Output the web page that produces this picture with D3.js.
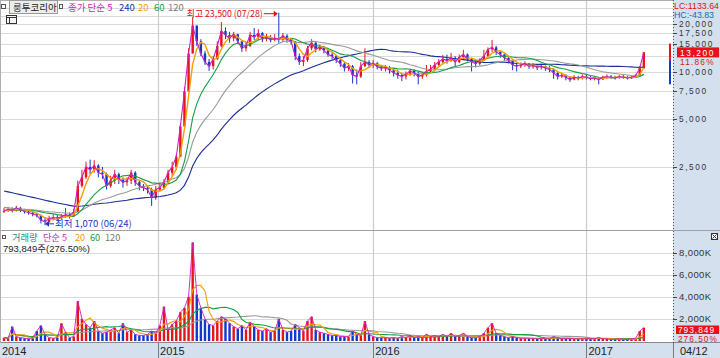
<!DOCTYPE html>
<html><head><meta charset="utf-8">
<script src="https://cdn.jsdelivr.net/npm/d3@7"></script>
<style>
body{margin:0;background:#fff}
svg{display:block}
text{font-family:"Noto Sans CJK KR","Noto Sans",sans-serif}
text.num{font-family:"Liberation Sans","Arial","Noto Sans CJK KR",sans-serif}
</style>
</head><body>
<svg id="c" width="720" height="358"></svg>
<script>
// ---------------- DATA ----------------
const stockName = "룽투코리아";
const startWeek = "2014-04-14";
const lastDate = "2017-04-12";
// weekly closes (won)
const closes = [1320,1350,1330,1380,1340,1310,1290,1260,1240,1150,1130,1180,1200,1190,1210,1250,1230,1300,
1900,2150,2500,2400,2550,2300,2250,1900,2050,2250,2100,2000,2050,2300,2000,1900,1850,1800,1600,1800,1850,2000,2300,2500,
2900,4500,7500,13000,19500,15500,13000,11500,10800,12000,14500,18000,17000,16200,17200,15500,14000,14500,17000,16500,17500,16000,16500,15800,16200,16000,16800,16000,15500,
12500,11500,11800,14000,15200,13800,14300,13600,12800,12500,11800,11200,10500,10800,9500,9300,10800,11500,11000,11300,10700,10500,10600,10200,9800,9500,9300,9600,10100,9800,9300,9500,
10000,10300,11000,11500,12000,11700,12200,11500,12300,12800,12000,11500,11200,11800,12500,13800,14200,13300,12800,12200,11800,11000,10800,11000,11200,10800,10900,10600,10800,10500,10300,
9800,9300,9500,9200,8900,9200,9100,9300,9200,9000,9100,8900,9200,9300,9200,9100,9300,9200,9100,9200,9400,10500,13200];
const highs = [1380,1400,1390,1420,1400,1360,1340,1310,1290,1250,1200,1230,1250,1240,1260,1380,1290,1360,
2050,2400,2700,2780,2760,2600,2500,2300,2200,2400,2300,2150,2150,2400,2350,2050,1950,1900,1850,1900,2000,2100,2400,2700,
3000,4700,8000,14000,22000,19500,16000,13500,12000,12500,15500,20500,19000,17800,17800,17300,15500,15200,17800,18800,18500,17800,17300,17000,17200,23500,17500,17200,16300,
15500,13000,12500,14500,16000,15300,14800,14500,13800,13200,12700,12000,11400,11300,11000,10300,11500,14000,11800,11800,11500,11000,11000,10800,10500,10200,9800,10000,10400,10300,10000,9900,
11000,11000,11500,12000,12700,12800,13100,12500,12800,13700,13000,12200,11800,12100,13700,14200,15800,14500,13400,13000,12300,11900,11300,11400,11600,11300,11300,11100,11200,10900,10800,
10500,9900,9800,9600,9300,9500,9400,9600,9500,9400,9300,9200,9400,9600,9500,9400,9500,9500,9400,9400,9600,10800,13300];
const lows = [1280,1300,1290,1310,1300,1270,1250,1220,1200,1100,1070,1110,1150,1150,1160,1190,1180,1210,
1300,1850,2100,2250,2300,2150,2100,1800,1850,1950,1950,1850,1900,1950,1900,1780,1760,1700,1420,1550,1750,1800,1950,2200,
2400,2900,4500,7500,13000,14500,12500,11000,10100,10300,11800,14200,16000,15200,15500,15000,13300,13400,14300,15800,15800,15300,15500,15300,15500,15200,15500,15200,14800,
11800,11000,10800,11500,13600,13200,13500,13000,12400,12000,11300,10700,10000,10100,8400,8300,9100,10700,10500,10500,10300,10100,10000,9700,9300,9000,8700,8900,9400,9300,8300,9000,
9300,9800,10000,10800,11300,11200,11500,10800,11300,12000,11600,10000,10600,10900,11700,12400,13300,12700,12200,11700,11300,10200,10000,10500,10700,10400,10400,10200,10300,10100,9900,
9000,8900,9100,8800,8600,8800,8800,8900,8900,8800,8800,8300,8900,9000,9000,8900,9000,9000,8900,9000,9100,9300,10400];
// weekly volume (thousand shares)
const volumes = [300,250,1300,400,300,250,200,300,900,1400,600,300,250,300,1600,800,300,400,
3600,2000,1500,1200,1800,900,700,800,1000,1200,700,1600,800,1000,600,500,500,600,900,700,1400,3100,1000,1500,
1800,2600,3000,4000,8900,4200,3000,2000,1500,1400,1800,2200,2000,1600,1300,1100,1400,1000,1700,1300,1000,900,1100,800,900,2000,1000,800,900,
1500,1200,900,1800,2200,1000,800,700,600,500,500,400,400,400,900,600,500,1800,600,400,300,300,300,250,300,250,400,300,500,300,400,300,
600,400,500,400,600,400,700,400,500,700,400,300,300,400,700,1200,1600,700,500,400,300,400,300,250,250,250,250,200,250,200,
200,400,300,200,200,250,200,200,200,200,200,200,300,200,200,150,150,200,150,150,200,250,900,1200];
// closes of the weeks before the first visible week (used only for moving averages)
const priorCloses = [2500,2480,2450,2400,2350,2350,2300,2250,2200,2200,2150,2150,2100,2100,2050,2050,2000,2000,
2000,1950,1900,1850,1800,1750,1600,1550,1500,1500,1450,1450,1400,1400,1400,1380,1380,1350,1350,1350,1350,1330,1330,1330,1320,1320,1330,1330,1320];
const maDays = [5, 20, 60, 120, 240];
const volMaDays = [5, 20, 60, 120];
const priceTicks = [2500,5000,7500,10000,12500,15000,17500,20000,22500,25000];
const priceTickLabels = ["2,500","5,000","7,500","10,000","","15,000","17,500","20,000","",""];
const volTicks = [2000,4000,6000,8000];
const yearLabels = ["2014","2015","2016","2017"];
const yearDates = ["2014-04-14","2015-01-02","2016-01-04","2017-01-02"];
const highDateLabel = "07/28", lowDateLabel = "06/24";
const lastClose = 13200, changeRate = "11.86%";
const lastVolume = 793849, volRate = "276.50%";
const lcText = "LC:1133.64", hcText = "HC:-43.83";
const rangeUp = [15000, 11800], rangeDown = [11800, 8300];

// ---------------- STYLE ----------------
const C = {up:"#e3141c", down:"#1438c8", ma5:"#d01cc0", ma20:"#f0a000", ma60:"#14a040", ma120:"#9a9a9a", ma240:"#1a2f9a",
  grid:"#dadada", vgrid:"#cccccc", panel:"#d5e0ee", axisText:"#333", teal:"#138a8a"};
const maColor = {5:C.ma5, 20:C.ma20, 60:C.ma60, 120:C.ma120, 240:C.ma240};

const parse = d3.timeParse("%Y-%m-%d");
const fmt = d3.format(",");
const svg = d3.select("#c");
const plotR = 673;

const dates = closes.map((_, i) => d3.timeDay.offset(parse(startWeek), 7 * i));
const x = d3.scaleTime().domain([parse(startWeek), parse(lastDate)]).range([4, 645]);
const y = d3.scaleLog().domain([1000, 25000]).range([230, 8.44]);
const yv = d3.scaleLinear().domain([0, 8000]).range([341, 252.5]);

// backgrounds
svg.append("rect").attr("x",plotR).attr("y",0).attr("width",720-plotR).attr("height",343).attr("fill",C.panel);
svg.append("rect").attr("x",0).attr("y",343).attr("width",720).attr("height",15).attr("fill",C.panel);

// clip paths
const defs = svg.append("defs");
defs.append("clipPath").attr("id","cp").append("rect").attr("x",1).attr("y",1).attr("width",plotR-1).attr("height",229);
defs.append("clipPath").attr("id","cv").append("rect").attr("x",1).attr("y",232).attr("width",plotR-1).attr("height",110);

// grid
const gp = svg.append("g");
gp.selectAll("line.h").data(priceTicks).join("line")
  .attr("x1",1).attr("x2",plotR).attr("y1",d=>Math.round(y(d))+0.5).attr("y2",d=>Math.round(y(d))+0.5)
  .attr("stroke",C.grid);
gp.selectAll("line.hv").data(volTicks).join("line")
  .attr("x1",1).attr("x2",plotR).attr("y1",d=>Math.round(yv(d))+0.5).attr("y2",d=>Math.round(yv(d))+0.5)
  .attr("stroke",C.grid);
gp.selectAll("line.v").data(yearDates.slice(1)).join("line")
  .attr("x1",d=>Math.round(x(parse(d)))+0.5).attr("x2",d=>Math.round(x(parse(d)))+0.5)
  .attr("y1",0).attr("y2",343).attr("stroke",C.vgrid).attr("stroke-width",1.2);

// panel borders
svg.append("line").attr("x1",0).attr("x2",720).attr("y1",230.5).attr("y2",230.5).attr("stroke","#a0a0a0");
svg.append("line").attr("x1",0).attr("x2",720).attr("y1",342.5).attr("y2",342.5).attr("stroke","#8a8a8a");
svg.append("line").attr("x1",0.5).attr("x2",0.5).attr("y1",0).attr("y2",343).attr("stroke","#b0b0b0");
svg.append("line").attr("x1",0).attr("x2",plotR).attr("y1",0.5).attr("y2",0.5).attr("stroke","#b0b0b0");
svg.append("line").attr("x1",plotR+0.5).attr("x2",plotR+0.5).attr("y1",0).attr("y2",343)
  .attr("stroke","#555").attr("stroke-dasharray","1,2");

// ---------------- PRICE PANEL ----------------
const gPrice = svg.append("g").attr("clip-path","url(#cp)");
const bars = closes.map((c, i) => ({
  date: dates[i], close: c, high: highs[i], low: lows[i],
  open: i === 0 ? priorCloses[priorCloses.length - 1] : closes[i - 1], vol: volumes[i]
}));
bars.forEach(b => b.up = b.close >= b.open);

gPrice.selectAll("line.wick").data(bars).join("line")
  .attr("x1",d=>x(d.date)).attr("x2",d=>x(d.date))
  .attr("y1",d=>y(d.high)).attr("y2",d=>y(d.low))
  .attr("stroke",d=>d.up?C.up:C.down).attr("stroke-width",1);
gPrice.selectAll("rect.body").data(bars).join("rect")
  .attr("x",d=>x(d.date)-1.2).attr("width",2.4)
  .attr("y",d=>y(Math.max(d.open,d.close)))
  .attr("height",d=>Math.max(1, Math.abs(y(d.open)-y(d.close))))
  .attr("fill",d=>d.up?C.up:C.down);

const allCloses = priorCloses.concat(closes);
function maSeries(days) {
  const w = Math.max(1, Math.round(days / 5));
  return closes.map((_, i) => {
    const k = i + priorCloses.length;
    return {date: dates[i], v: d3.mean(allCloses.slice(Math.max(0, k - w + 1), k + 1))};
  });
}
const lineP = d3.line().x(d=>x(d.date)).y(d=>y(d.v));
[240,120,60,20,5].forEach(n => {
  gPrice.append("path").datum(maSeries(n)).attr("d",lineP).attr("fill","none")
    .attr("stroke",maColor[n]).attr("stroke-width",n===20?1.4:1.1);
});

// high / low annotations
const hiIdx = d3.maxIndex(highs), loIdx = d3.minIndex(lows);
const hx = x(dates[hiIdx]), hy = y(highs[hiIdx]);
svg.append("text").attr("x",hx-16).attr("y",hy+4).attr("text-anchor","end")
  .attr("font-size",9.5).attr("textLength",76).attr("lengthAdjust","spacingAndGlyphs")
  .attr("fill","#e01010").text(`최고 ${fmt(highs[hiIdx])} (${highDateLabel})`);
svg.append("line").attr("x1",hx-15).attr("x2",hx-2).attr("y1",hy+1).attr("y2",hy+1).attr("stroke","#e01010");
svg.append("path").attr("d",`M${hx-1},${hy+1} l-4,-3 l0,6 z`).attr("fill","#e01010");
const lx = x(dates[loIdx]), ly = y(lows[loIdx]);
svg.append("line").attr("x1",lx+1).attr("x2",lx+9).attr("y1",ly-1.5).attr("y2",ly-1.5).attr("stroke","#1438c8");
svg.append("path").attr("d",`M${lx},${ly-1.5} l4,-3 l0,6 z`).attr("fill","#1438c8");
svg.append("text").attr("x",lx+10).attr("y",ly+1.8)
  .attr("font-size",9.5).attr("fill","#1438c8").text(`최저 ${fmt(lows[loIdx])} (${lowDateLabel})`);

// range bar near right edge
svg.append("rect").attr("x",669).attr("width",2).attr("y",y(rangeUp[0])).attr("height",y(rangeUp[1])-y(rangeUp[0])).attr("fill","#e3141c");
svg.append("rect").attr("x",669).attr("width",2).attr("y",y(rangeDown[0])).attr("height",y(rangeDown[1])-y(rangeDown[0])).attr("fill","#1438c8");

// header legend
svg.append("rect").attr("x",1.5).attr("y",4.5).attr("width",4).attr("height",4).attr("fill","#fff").attr("stroke","#555");
svg.append("rect").attr("x",9.5).attr("y",0.5).attr("width",48).attr("height",13).attr("fill","#ececec").attr("stroke","#9a9a9a");
svg.append("text").attr("x",13).attr("y",11).attr("font-size",9.5).attr("fill","#222").text(stockName);
svg.append("rect").attr("x",59.5).attr("y",4.5).attr("width",3).attr("height",4).attr("fill","#fff").attr("stroke","#555");
const legendItems = [["종가 단순 5",68,C.ma5],["240",119,C.ma240],["20",138,C.ma20],["60",154,C.ma60],["120",168,"#777"]];
svg.selectAll("text.lg").data(legendItems).join("text")
  .attr("x",d=>d[1]).attr("y",11).attr("font-size",9.5).attr("fill",d=>d[2]).text(d=>d[0]);
// small table icon
svg.append("rect").attr("x",6.5).attr("y",15.5).attr("width",10).attr("height",8).attr("fill","#f4f4f4").attr("stroke","#333");
svg.append("line").attr("x1",6.5).attr("x2",16.5).attr("y1",17.5).attr("y2",17.5).attr("stroke","#333");
svg.append("line").attr("x1",9.5).attr("x2",9.5).attr("y1",17.5).attr("y2",23.5).attr("stroke","#333");

// right price axis
const ga = svg.append("g");
ga.selectAll("line.t").data(priceTicks.filter((d,i)=>priceTickLabels[i])).join("line")
  .attr("x1",plotR).attr("x2",plotR+4).attr("y1",d=>Math.round(y(d))+0.5).attr("y2",d=>Math.round(y(d))+0.5).attr("stroke","#444");
ga.selectAll("text.t").data(priceTicks.map((d,i)=>[d,priceTickLabels[i]]).filter(d=>d[1])).join("text")
  .attr("class","num").attr("x",679).attr("y",d=>y(d[0])+3.1).attr("font-size",8.3).attr("letter-spacing",1.6)
  .attr("fill",C.axisText).text(d=>d[1]);
svg.append("text").attr("class","num").attr("x",674).attr("y",8.8).attr("font-size",9).attr("textLength",45).attr("lengthAdjust","spacingAndGlyphs")
  .attr("fill","#e01010").text(lcText);
svg.append("text").attr("class","num").attr("x",674).attr("y",17.5).attr("font-size",9).attr("textLength",40).attr("lengthAdjust","spacingAndGlyphs")
  .attr("fill","#1f5fc0").text(hcText);
svg.append("rect").attr("x",677).attr("y",y(lastClose)-5).attr("width",42).attr("height",10).attr("fill","#e8101a");
svg.append("text").attr("class","num").attr("x",680).attr("y",y(lastClose)+4).attr("font-size",8.3).attr("letter-spacing",1.6)
  .attr("fill","#fff").text(fmt(lastClose));
svg.append("text").attr("class","num").attr("x",680).attr("y",y(lastClose)+12.8).attr("font-size",8.3).attr("letter-spacing",1.2)
  .attr("fill","#e01010").text(changeRate);

// ---------------- VOLUME PANEL ----------------
const gVol = svg.append("g").attr("clip-path","url(#cv)");
gVol.selectAll("rect.v").data(bars).join("rect")
  .attr("x",d=>x(d.date)-1.2).attr("width",2.4)
  .attr("y",d=>yv(d.vol)).attr("height",d=>yv(0)-yv(d.vol))
  .attr("fill",d=>d.up?C.up:C.down);
function volMa(days) {
  const w = Math.max(1, Math.round(days / 5));
  return volumes.map((_, i) => ({date: dates[i], v: d3.mean(volumes.slice(Math.max(0, i - w + 1), i + 1))}));
}
const lineV = d3.line().x(d=>x(d.date)).y(d=>yv(d.v));
[120,60,20,5].forEach(n => {
  gVol.append("path").datum(volMa(n)).attr("d",lineV).attr("fill","none")
    .attr("stroke",maColor[n]).attr("stroke-width",n===5?0.9:1.1);
});
// volume legend
svg.append("rect").attr("x",2.5).attr("y",235.5).attr("width",3).attr("height",3).attr("fill","#fff").attr("stroke","#555");
const vLegend = [["거래량",12,C.teal],["단순 5",43,C.ma5],["20",75,C.ma20],["60",90,C.ma60],["120",105,"#777"]];
svg.selectAll("text.vl").data(vLegend).join("text")
  .attr("x",d=>d[1]).attr("y",240.8).attr("font-size",9.2).attr("fill",d=>d[2]).text(d=>d[0]);
svg.append("text").attr("class","num").attr("x",3).attr("y",252.3).attr("font-size",9.5).attr("fill","#222")
  .text(`${fmt(lastVolume)}주(${volRate})`);
// right volume axis
ga.selectAll("line.tv").data(volTicks).join("line")
  .attr("x1",plotR).attr("x2",plotR+4).attr("y1",d=>Math.round(yv(d))+0.5).attr("y2",d=>Math.round(yv(d))+0.5).attr("stroke","#444");
ga.selectAll("text.tv").data(volTicks).join("text")
  .attr("class","num").attr("x",679).attr("y",d=>yv(d)+3.4).attr("font-size",9.5).attr("letter-spacing",0.4)
  .attr("fill",C.axisText).text(d=>fmt(d)+"K");
svg.append("rect").attr("x",676).attr("y",325.5).attr("width",43).attr("height",8.5).attr("fill","#e8101a");
svg.append("text").attr("class","num").attr("x",678).attr("y",332.8).attr("font-size",8.3).attr("letter-spacing",1)
  .attr("fill","#fff").text(fmt(lastVolume));
svg.append("text").attr("class","num").attr("x",678).attr("y",342.3).attr("font-size",8.3).attr("letter-spacing",1)
  .attr("fill","#e01010").text(volRate);
// close icon
svg.append("rect").attr("x",711.5).attr("y",233.5).attr("width",6).attr("height",6).attr("fill","#fff").attr("stroke","#333");
svg.append("path").attr("d","M712.5,234.5 L716.5,238.5 M716.5,234.5 L712.5,238.5").attr("stroke","#333");

// ---------------- X AXIS ----------------
const gx = svg.append("g");
gx.selectAll("line.xt").data(yearDates.slice(1)).join("line")
  .attr("x1",d=>Math.round(x(parse(d)))+0.5).attr("x2",d=>Math.round(x(parse(d)))+0.5)
  .attr("y1",343).attr("y2",358).attr("stroke","#7a7a7a");
gx.selectAll("text.xt").data(yearDates.map((d,i)=>[d,yearLabels[i]])).join("text")
  .attr("class","num").attr("x",(d,i)=> i===0 ? 2 : x(parse(d[0]))+2).attr("y",355).attr("font-size",11).attr("fill","#222").text(d=>d[1]);
gx.append("line").attr("x1",plotR+0.5).attr("x2",plotR+0.5).attr("y1",343).attr("y2",358).attr("stroke","#7a7a7a");
gx.append("text").attr("class","num").attr("x",680).attr("y",355).attr("font-size",11).attr("fill","#222").text(d3.timeFormat("%m/%d")(parse(lastDate)));
</script>
</body></html>
